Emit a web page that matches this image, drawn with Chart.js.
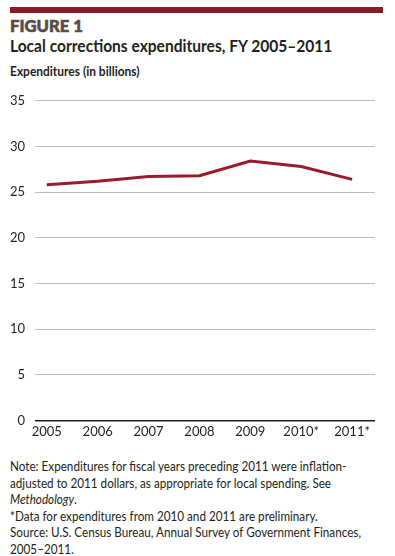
<!DOCTYPE html>
<html>
<head>
<meta charset="utf-8">
<script src="https://cdn.jsdelivr.net/npm/chart.js@4"></script>
<style>
  body { margin:0; width:395px; height:556px; background:#fff; position:relative; overflow:hidden;
         font-family:Lato,sans-serif; color:#231f20; }
  .bar { position:absolute; left:10px; top:7px; width:373px; height:6px; background:#8c1b24; }
  .t { position:absolute; left:10px; white-space:nowrap; transform-origin:0 0; }
  .fig { top:16px; font-size:17px; line-height:20px; font-weight:900; color:#5b4b44; -webkit-text-stroke:0.6px #5b4b44; transform:scaleX(0.98); }
  .title { top:36px; font-size:17px; line-height:20px; font-weight:bold; transform:scaleX(0.915); }
  .ylab { top:63px; font-size:13px; line-height:16px; font-weight:bold; transform:scaleX(0.92); }
  .notes { top:458px; font-size:13px; line-height:16.5px; transform:scaleX(0.9); }
  #wrap { position:absolute; left:0; top:83px; width:395px; height:361px; }
</style>
</head>
<body>
<div class="bar"></div>
<div class="t fig">FIGURE 1</div>
<div class="t title">Local corrections expenditures, FY 2005–2011</div>
<div class="t ylab">Expenditures (in billions)</div>
<div id="wrap"><canvas id="chart"></canvas></div>
<div class="t notes">
  Note: Expenditures for fiscal years preceding 2011 were inflation-<br>
  adjusted to 2011 dollars, as appropriate for local spending. See<br>
  <i>Methodology</i>.<br>
  *Data for expenditures from 2010 and 2011 are preliminary.<br>
  Source: U.S. Census Bureau, Annual Survey of Government Finances,<br>
  2005–2011.
</div>
<script>
const years = [2005, 2006, 2007, 2008, 2009, 2010, 2011];
const yearLabels = ['2005', '2006', '2007', '2008', '2009', '2010*', '2011*'];
const spending = [25.8, 26.2, 26.7, 26.8, 28.4, 27.8, 26.4];
const yTicks = [0, 5, 10, 15, 20, 25, 30, 35];

const tickFont = { family: 'Lato,sans-serif', size: 13 };

new Chart(document.getElementById('chart'), {
    type: 'line',
    data: {
        datasets: [{
            data: years.map((y, i) => ({ x: y, y: spending[i] })),
            borderColor: '#9b1b2b',
            borderWidth: 3,
            pointRadius: 0,
            tension: 0
        }]
    },
    options: {
        responsive: true,
        maintainAspectRatio: false,
        animation: false,
        layout: { padding: { top: 1, right: 20, left: 0 } },
        plugins: { legend: { display: false }, tooltip: { enabled: false } },
        scales: {
            x: {
                type: 'linear',
                min: 2004.77,
                max: 2011.45,
                afterBuildTicks: s => { s.ticks = years.map(v => ({ value: v })); },
                ticks: {
                    color: '#231f20', font: tickFont, padding: 4, maxRotation: 0,
                    callback: v => yearLabels[years.indexOf(v)]
                },
                grid: { display: false, drawTicks: false },
                border: { display: false }
            },
            y: {
                min: 0,
                max: 35,
                afterBuildTicks: s => { s.ticks = yTicks.map(v => ({ value: v })); },
                ticks: { color: '#231f20', font: tickFont, padding: 10 },
                grid: {
                    drawTicks: false,
                    color: c => c.tick && c.tick.value === 0 ? '#231f20' : '#bdbdbd',
                    lineWidth: c => c.tick && c.tick.value === 0 ? 1.5 : 1
                },
                border: { display: false }
            }
        }
    }
});
</script>
</body>
</html>
